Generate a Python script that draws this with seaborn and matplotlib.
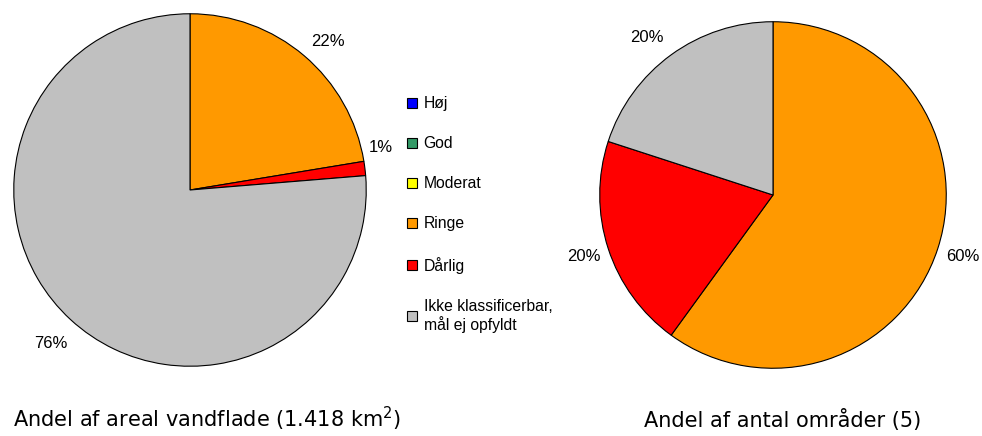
import matplotlib
matplotlib.use("Agg")
import matplotlib.pyplot as plt
import seaborn as sns
from matplotlib.patches import Patch

# Data
categories = ['Høj', 'God', 'Moderat', 'Ringe', 'Dårlig', 'Ikke klassificerbar,\nmål ej opfyldt']
colors = ['#0000FF', '#339966', '#FFFF00', '#FF9900', '#FF0000', '#C0C0C0']

area_share = [0, 0, 0, 22.4, 1.3, 76.3]      # Andel af areal vandflade
count_share = [0, 0, 0, 60, 20, 20]          # Andel af antal områder

left_title = 'Andel af areal vandflade (1.418 km$^2$)'
right_title = 'Andel af antal områder (5)'

sns.set_theme(style="white")
plt.rcParams['font.family'] = ['Liberation Sans', 'DejaVu Sans']
plt.rcParams['text.color'] = 'black'

W, H = 982, 436
fig = plt.figure(figsize=(W / 100, H / 100), dpi=100)


def pie_axes(cx, cy, r):
    return fig.add_axes([(cx - r) / W, (H - cy - r) / H, 2 * r / W, 2 * r / H])


def draw_pie(ax, values, dist=1.15):
    vals = [v for v in values if v > 0]
    cols = [c for v, c in zip(values, colors) if v > 0]
    labels = [f'{v:.0f}%' for v in vals]
    wedges, texts = ax.pie(vals, colors=cols, labels=labels, startangle=90,
                           counterclock=False, labeldistance=dist,
                           wedgeprops=dict(edgecolor='black', linewidth=0.8),
                           textprops=dict(fontsize=12, color='black'))
    for t in texts:
        t.set_horizontalalignment('center')
        t.set_verticalalignment('center')
    ax.set_xlim(-1.01, 1.01)
    ax.set_ylim(-1.01, 1.01)
    ax.set_aspect('equal')
    ax.axis('off')
    return texts


ax1 = pie_axes(190, 190, 178)
t1 = draw_pie(ax1, area_share, dist=1.16)
# labels nudged as in the reference
t1[0].set_position((0.78, 0.84))
t1[1].set_position((1.08, 0.24))
t1[2].set_position((-0.79, -0.87))

ax2 = pie_axes(773, 195, 175)
t2 = draw_pie(ax2, count_share)
t2[2].set_position((-0.73, 0.91))

handles = [Patch(facecolor=c, edgecolor='black', linewidth=0.8) for c in colors]
fig.legend(handles, categories, loc='upper left',
           bbox_to_anchor=(393 / W, 1 - 82 / H), frameon=False,
           fontsize=11.3, labelspacing=1.6, handlelength=0.6, handleheight=0.6,
           handletextpad=0.45)

fig.text(207 / W, 1 - 427 / H, left_title, ha='center', va='baseline',
         fontsize=15, family='DejaVu Sans', color='black')
fig.text(783 / W, 1 - 427 / H, right_title, ha='center', va='baseline',
         fontsize=15, family='DejaVu Sans', color='black')

fig.savefig('out.png', dpi=100)
